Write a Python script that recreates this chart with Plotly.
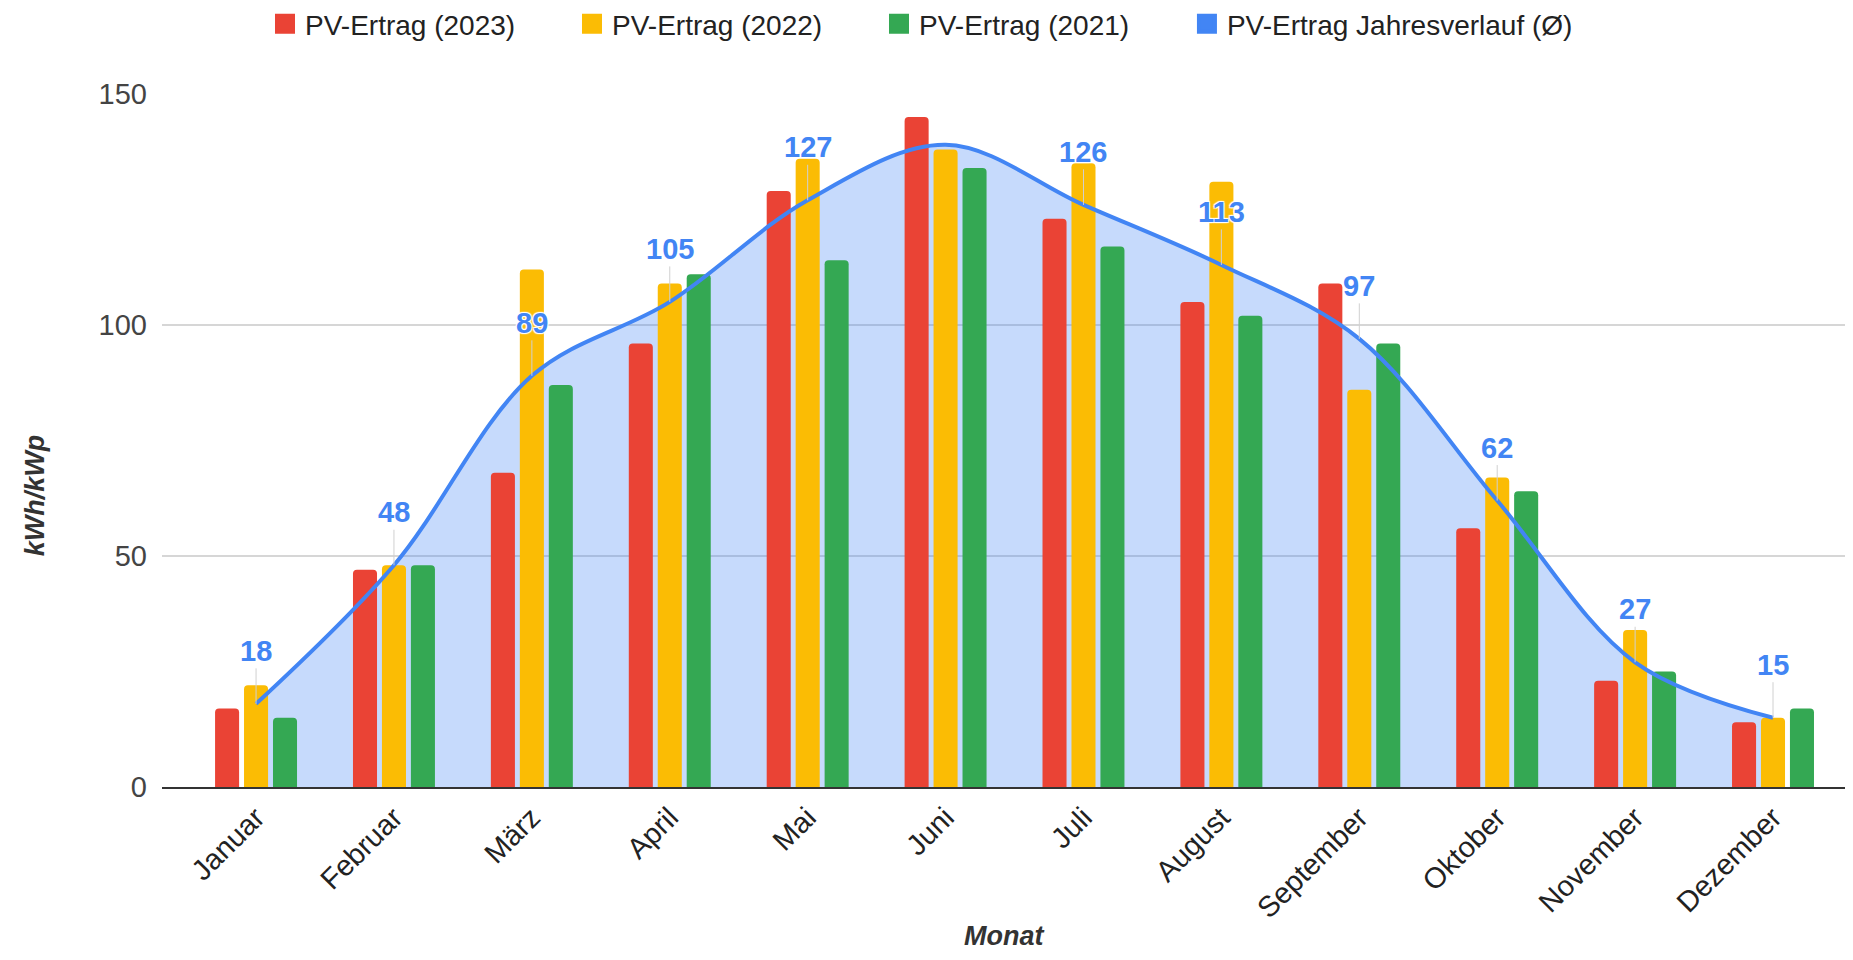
import plotly.graph_objects as go

months = ["Januar", "Februar", "März", "April", "Mai", "Juni", "Juli",
          "August", "September", "Oktober", "November", "Dezember"]
ertrag_2023 = [17, 47, 68, 96, 129, 145, 123, 105, 109, 56, 23, 14]
ertrag_2022 = [22, 48, 112, 109, 136, 138, 135, 131, 86, 67, 34, 15]
ertrag_2021 = [15, 48, 87, 111, 114, 134, 117, 102, 96, 64, 25, 17]
verlauf_avg = [18, 48, 89, 105, 127, 139, 126, 113, 97, 62, 27, 15]
verlauf_labels = ["18", "48", "89", "105", "127", "", "126", "113", "97", "62", "27", "15"]
y_ticks = [0, 50, 100, 150]

RED, YELLOW, GREEN, BLUE = "#EA4335", "#FBBC04", "#34A853", "#4285F4"
FONT = "Liberation Sans, Arial, sans-serif"

series = [("PV-Ertrag (2023)", ertrag_2023, RED),
          ("PV-Ertrag (2022)", ertrag_2022, YELLOW),
          ("PV-Ertrag (2021)", ertrag_2021, GREEN)]
avg_name = "PV-Ertrag Jahresverlauf (Ø)"

fig = go.Figure()

# area under the average curve (bottom layer)
fig.add_trace(go.Scatter(
    x=months, y=verlauf_avg, mode="none", fill="tozeroy",
    line=dict(shape="spline", smoothing=1.0),
    fillcolor="rgba(66,133,244,0.30)", showlegend=False, hoverinfo="skip",
))

# bars on overlay axis y2 (above the fill)
for name, vals, col in series:
    fig.add_trace(go.Bar(x=months, y=vals, name=name, yaxis="y2", showlegend=False,
                         marker=dict(color=col, line=dict(width=0))))

# average line on overlay axis y3 (above the bars)
fig.add_trace(go.Scatter(
    x=months, y=verlauf_avg, mode="lines", yaxis="y3",
    line=dict(color=BLUE, width=4, shape="spline", smoothing=1.0),
    showlegend=False, name=avg_name,
))

# legend entries with square icons
legend_items = [(s[0], s[2], "legend") for s in series] + [(avg_name, BLUE, "legend2")]
for name, col, lg in legend_items:
    fig.add_trace(go.Scatter(
        x=[months[0]], y=[None], yaxis="y3", mode="markers", name=name, legend=lg,
        marker=dict(symbol="square", size=16, color=col, line=dict(color=col, width=4)),
        showlegend=True, hoverinfo="skip",
    ))

for m, v, lab in zip(months, verlauf_avg, verlauf_labels):
    if not lab:
        continue
    fig.add_annotation(
        x=m, y=v, xref="x", yref="y", text=f"<b>{lab}</b>",
        showarrow=True, arrowhead=0, arrowwidth=1, arrowcolor="#d0d0d0",
        ax=0, ay=-53, standoff=0,
        font=dict(family=FONT, size=29, color=BLUE,
                  shadow="1px 1px 1px white, -1px -1px 1px white, 1px -1px 1px white, -1px 1px 1px white"),
    )

# axis titles
fig.add_annotation(text="<b><i>kWh/kWp</i></b>", xref="paper", yref="paper", x=0, y=0.421,
                   xanchor="center", yanchor="middle", xshift=-127, textangle=-90, showarrow=False,
                   font=dict(family=FONT, size=27, color="#333"))
fig.add_annotation(text="<b><i>Monat</i></b>", xref="paper", yref="paper", x=0.5, y=0,
                   xanchor="center", yanchor="middle", yshift=-149, showarrow=False,
                   font=dict(family=FONT, size=27, color="#333"))

legend_common = dict(orientation="h", xanchor="left", yref="container", y=0.983, yanchor="middle",
                     font=dict(family=FONT, size=28, color="#222"), traceorder="normal",
                     itemclick=False, bgcolor="rgba(0,0,0,0)")
yax_common = dict(range=[0, 150])
fig.update_layout(
    width=1837, height=944,
    paper_bgcolor="white", plot_bgcolor="white",
    margin=dict(l=154, r=0, t=86, b=165),
    barmode="group", bargap=0.37, bargroupgap=0.17, barcornerradius=4,
    font=dict(family=FONT, color="#222"),
    legend=dict(**legend_common, x=0.0612, entrywidth=262, entrywidthmode="pixels"),
    legend2=dict(**legend_common, x=0.609),
    xaxis=dict(
        type="category", range=[-0.682, 11.522],
        tickangle=-45, tickfont=dict(family=FONT, size=29, color="#222"),
        showline=True, linecolor="#333", linewidth=2, showgrid=False, ticks="",
    ),
    yaxis=dict(
        **yax_common, tickvals=y_ticks,
        tickfont=dict(family=FONT, size=29, color="#444"), ticklabelstandoff=14,
        showgrid=True, gridcolor="#d6d6d6", gridwidth=2, zeroline=False,
    ),
    yaxis2=dict(**yax_common, overlaying="y", visible=False),
    yaxis3=dict(**yax_common, overlaying="y", visible=False),
)

fig.write_html("out.html")
